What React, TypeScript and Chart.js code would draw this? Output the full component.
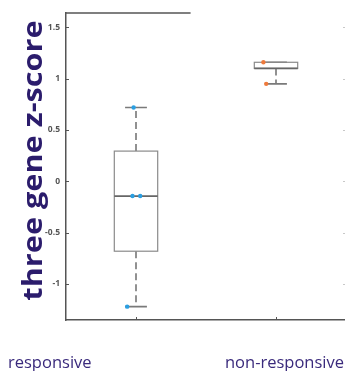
import { useEffect, useRef } from "react";
import { Chart, registerables } from "chart.js";

Chart.register(...registerables);

// ---- data ----
const categories = ["responsive", "non-responsive"];
const yAxisTitle = "three gene z-score";
const yTicks = [-1, -0.5, 0, 0.5, 1, 1.5];

const boxQ1 = [-0.68, 1.1];
const boxMedian = [-0.143, 1.1];
const boxQ3 = [0.295, 1.16];
const whiskerLow = [-1.22, 0.95];
const whiskerHigh = [0.72, 1.16];

const responsiveY = [0.72, -0.143, -0.143, -1.22];
const responsiveJitter = [-0.017, -0.025, 0.03, -0.063];
const nonResponsiveY = [1.16, 0.95];
const nonResponsiveJitter = [-0.09, -0.07];

// ---- style ----
const BOX_HALF = 0.155;
const CAP_HALF = 0.078;
const AXIS_COLOR = "#555555";
const LABEL_COLOR = "#3a2a7c";
const TITLE_COLOR = "#2b1c6c";

const boxPlugin = {
  id: "boxPlugin",
  beforeDatasetsDraw(chart: any) {
    const { ctx, scales } = chart;
    const xs = scales.x;
    const ys = scales.y;
    ctx.save();
    categories.forEach((_, i) => {
      const c = i + 1;
      const xl = xs.getPixelForValue(c - BOX_HALF);
      const xr = xs.getPixelForValue(c + BOX_HALF);
      const xc = xs.getPixelForValue(c);
      const cl = xs.getPixelForValue(c - CAP_HALF);
      const cr = xs.getPixelForValue(c + CAP_HALF);
      const yq1 = ys.getPixelForValue(boxQ1[i]);
      const yq3 = ys.getPixelForValue(boxQ3[i]);
      const ym = ys.getPixelForValue(boxMedian[i]);
      const ylo = ys.getPixelForValue(whiskerLow[i]);
      const yhi = ys.getPixelForValue(whiskerHigh[i]);

      // whiskers (dashed)
      ctx.strokeStyle = "#6e6e6e";
      ctx.lineWidth = 1.5;
      ctx.setLineDash([7, 4]);
      if (yhi < yq3) {
        ctx.beginPath();
        ctx.moveTo(xc, yq3);
        ctx.lineTo(xc, yhi);
        ctx.stroke();
      }
      if (ylo > yq1) {
        ctx.beginPath();
        ctx.moveTo(xc, yq1);
        ctx.lineTo(xc, ylo);
        ctx.stroke();
      }
      ctx.setLineDash([]);
      // caps
      ctx.strokeStyle = "#7a7a7a";
      ctx.lineWidth = 1.6;
      ctx.beginPath();
      ctx.moveTo(cl, yhi);
      ctx.lineTo(cr, yhi);
      ctx.moveTo(cl, ylo);
      ctx.lineTo(cr, ylo);
      ctx.stroke();
      // box
      ctx.strokeStyle = "#8a8a8a";
      ctx.lineWidth = 1.2;
      ctx.strokeRect(xl, yq3, xr - xl, yq1 - yq3);
      // median
      ctx.strokeStyle = "#666666";
      ctx.lineWidth = 1.8;
      ctx.beginPath();
      ctx.moveTo(xl, ym);
      ctx.lineTo(xr, ym);
      ctx.stroke();
    });
    ctx.restore();
  },
  afterDraw(chart: any) {
    const { ctx, scales, chartArea } = chart;
    const xs = scales.x;
    const ys = scales.y;
    ctx.save();
    // top border (partial, as in reference)
    ctx.strokeStyle = AXIS_COLOR;
    ctx.lineWidth = 1.5;
    ctx.beginPath();
    ctx.moveTo(chartArea.left, chartArea.top);
    ctx.lineTo(xs.getPixelForValue(1.39), chartArea.top);
    ctx.stroke();
    // inward ticks
    ctx.lineWidth = 1;
    ctx.beginPath();
    ys.ticks.forEach((t: any) => {
      const y = Math.round(ys.getPixelForValue(t.value)) + 0.5;
      ctx.moveTo(chartArea.left, y);
      ctx.lineTo(chartArea.left + 3, y);
    });
    xs.ticks.forEach((t: any) => {
      const x = Math.round(xs.getPixelForValue(t.value)) + 0.5;
      ctx.moveTo(x, chartArea.bottom);
      ctx.lineTo(x, chartArea.bottom - 3);
    });
    ctx.stroke();
    ctx.strokeStyle = "#c8c8c8";
    ctx.beginPath();
    ys.ticks.forEach((t: any) => {
      const y = Math.round(ys.getPixelForValue(t.value)) + 0.5;
      ctx.moveTo(chartArea.right, y);
      ctx.lineTo(chartArea.right - 3, y);
    });
    ctx.stroke();

    // y title
    ctx.fillStyle = TITLE_COLOR;
    ctx.font = "bold 26px 'Open Sans'";
    ctx.textAlign = "center";
    ctx.textBaseline = "middle";
    ctx.translate(chartArea.left - 31, (chartArea.top + chartArea.bottom) / 2 - 6);
    ctx.rotate(-Math.PI / 2);
    ctx.scale(1.18, 1);
    ctx.fillText(yAxisTitle, 0, 0);
    ctx.restore();

    // category labels
    ctx.save();
    ctx.fillStyle = LABEL_COLOR;
    ctx.font = "16.5px 'Open Sans'";
    ctx.textBaseline = "middle";
    const ly = chartArea.bottom + 43;
    ctx.textAlign = "left";
    ctx.fillText(categories[0], xs.getPixelForValue(1) - 128, ly);
    ctx.textAlign = "right";
    ctx.fillText(categories[1], xs.getPixelForValue(2) + 68, ly);
    ctx.restore();
  },
};

export default function App() {
  const ref = useRef<HTMLCanvasElement | null>(null);
  useEffect(() => {
    const canvas = ref.current;
    if (!canvas) return;
    const chart = new Chart(canvas, {
      type: "scatter",
      data: {
        datasets: [
          {
            data: responsiveY.map((y, i) => ({ x: 1 + responsiveJitter[i], y })),
            pointRadius: 2.2,
            pointBackgroundColor: "#2a9fe2",
            pointBorderWidth: 0,
          },
          {
            data: nonResponsiveY.map((y, i) => ({ x: 2 + nonResponsiveJitter[i], y })),
            pointRadius: 2.2,
            pointBackgroundColor: "#ee7a3c",
            pointBorderWidth: 0,
          },
        ],
      },
      options: {
        responsive: false,
        animation: false,
        devicePixelRatio: 1,
        layout: { padding: { top: 13, right: 3, left: 0, bottom: 0 } },
        plugins: { legend: { display: false }, tooltip: { enabled: false } },
        scales: {
          x: {
            type: "linear",
            min: 0.5,
            max: 2.5,
            afterBuildTicks: (s: any) => {
              s.ticks = categories.map((_, i) => ({ value: i + 1 }));
            },
            ticks: { display: false },
            grid: { display: false, drawTicks: false },
            border: { display: true, color: AXIS_COLOR, width: 1.5 },
            afterFit: (s: any) => {
              s.height = 51;
            },
          },
          y: {
            type: "linear",
            min: -1.35,
            max: 1.64,
            afterBuildTicks: (s: any) => {
              s.ticks = yTicks.map((v) => ({ value: v }));
            },
            ticks: {
              callback: (v: any) => String(v),
              font: { size: 8.5, family: "'Open Sans'", weight: "bold" },
              color: "#555555",
              padding: 6,
            },
            grid: { display: false, drawTicks: false },
            border: { display: true, color: AXIS_COLOR, width: 1.5 },
            afterFit: (s: any) => {
              s.width = 66;
            },
          },
        },
      } as any,
      plugins: [boxPlugin],
    });
    return () => chart.destroy();
  }, []);
  return (
    <div
      style={{
        position: "fixed",
        top: 0,
        left: 0,
        width: 345,
        height: 371,
        overflow: "hidden",
        background: "#ffffff",
      }}
    >
      <canvas ref={ref} width={350} height={371} style={{ width: 350, height: 371, display: "block" }} />
    </div>
  );
}
